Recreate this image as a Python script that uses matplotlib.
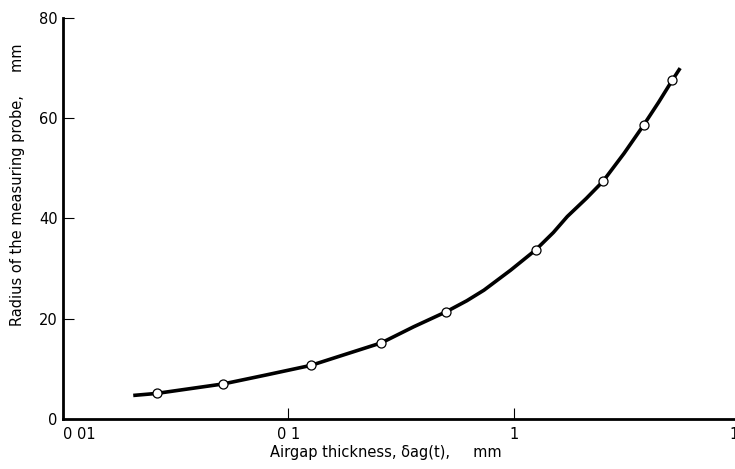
import matplotlib
matplotlib.use("Agg")
import matplotlib.pyplot as plt

# measured points (airgap thickness mm, probe radius mm)
gap_pts = [0.026, 0.0515, 0.126, 0.259, 0.502, 1.25, 2.49, 3.77, 5.06]
radius_pts = [5.1, 7.0, 10.7, 15.2, 21.4, 33.7, 47.4, 58.6, 67.6]

# smooth curve drawn through the points
curve_gap = [0.0205, 0.026, 0.0515, 0.080, 0.126, 0.182, 0.259, 0.36, 0.502,
             0.62, 0.738, 0.97, 1.25, 1.5, 1.73, 2.1, 2.49, 3.09, 3.77, 4.4, 5.06, 5.48]
curve_radius = [4.7, 5.1, 7.0, 8.8, 10.7, 13.0, 15.2, 18.4, 21.4,
                23.6, 25.7, 29.7, 33.7, 37.2, 40.4, 44.0, 47.4, 53.0, 58.6, 63.2, 67.6, 70.0]

xticks = [0.01, 0.1, 1, 10]
xtick_labels = ["0 01", "0 1", "1", "10"]
yticks = [0, 20, 40, 60, 80]

plt.rcParams['font.family'] = ['DejaVu Sans']

W, H = 735, 469
fig = plt.figure(figsize=(W / 100, H / 100), dpi=100)
ax = fig.add_axes([63/W, 50/H, 676/W, 401/H])

ax.plot(curve_gap, curve_radius, color='black', lw=2.6, solid_capstyle='butt',
        solid_joinstyle='round', zorder=2)
ax.plot(gap_pts, radius_pts, 'o', ms=6.5, mfc='white', mec='black', mew=0.9, zorder=3)

ax.set_xscale('log')
ax.set_xlim(0.01, 10)
ax.set_ylim(0, 80)
ax.set_xticks(xticks)
ax.set_xticklabels(xtick_labels)
ax.minorticks_off()
ax.set_yticks(yticks)

for s in ['top', 'right']:
    ax.spines[s].set_visible(False)
for s in ['left', 'bottom']:
    ax.spines[s].set_linewidth(2)

ax.tick_params(axis='both', direction='in', length=8, width=0.8, labelsize=10.5, colors='black')
ax.tick_params(axis='x', pad=6)
ax.tick_params(axis='y', pad=4)
ax.get_xticklabels()[0].set_ha('left')

fig.text(386/W, 1 - 452/H, "Airgap thickness, δag(t),     mm", fontsize=10.5,
         ha='center', va='center')
fig.text(18/W, 1 - 185/H, "Radius of the measuring probe,     mm", fontsize=10.5,
         ha='center', va='center', rotation=90)

fig.savefig("out.png", dpi=100)
